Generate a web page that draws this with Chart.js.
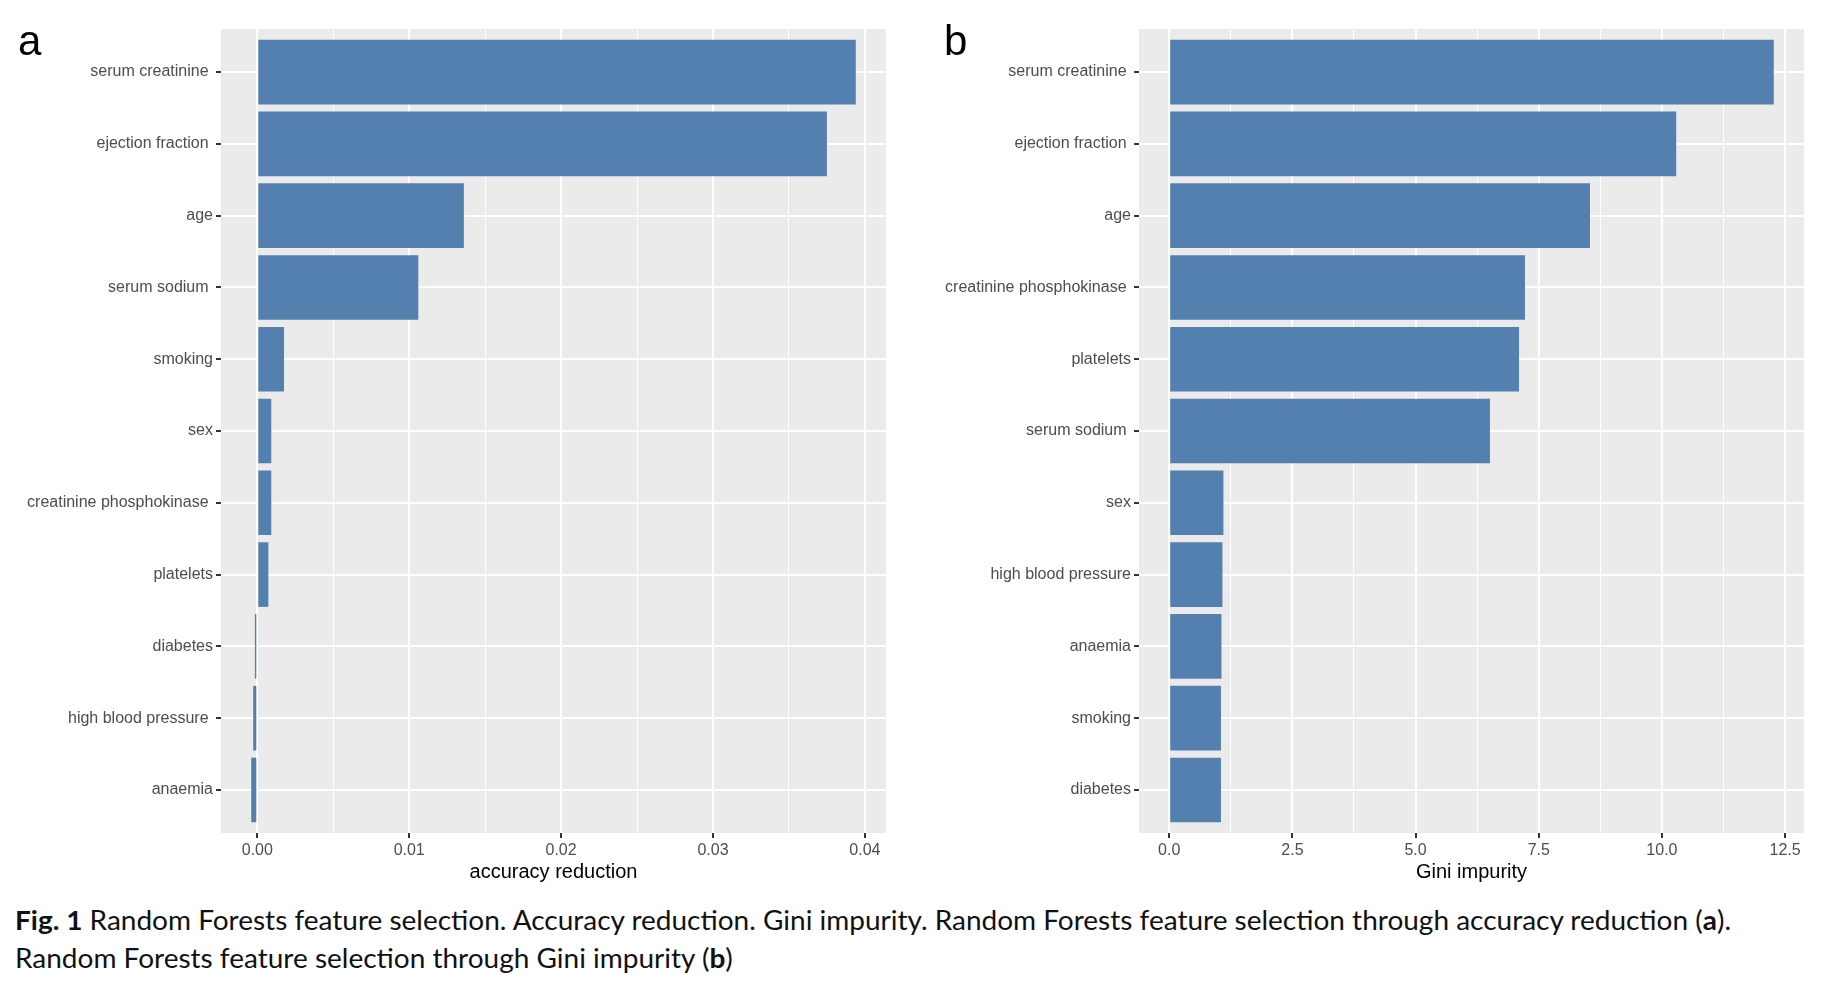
<!DOCTYPE html>
<html lang="en">
<head>
  <meta charset="UTF-8" />
  <title>Random Forests feature selection</title>
  <script src="https://cdn.jsdelivr.net/npm/chart.js"></script>
  <style>
    body {
      margin: 0;
      background: #ffffff;
      width: 1824px;
      height: 986px;
      position: relative;
      overflow: hidden;
      font-family: 'Liberation Sans', Arial, sans-serif;
    }
    .panel {
      position: absolute;
      top: 0;
      width: 912px;
      height: 890px;
    }
    .tag {
      position: absolute;
      font-size: 42px;
      line-height: 1;
      color: #000;
    }
    .caption {
      position: absolute;
      left: 15px;
      font-family: Lato, 'Open Sans', sans-serif;
      font-size: 26px;
      line-height: 1;
      color: #111;
      white-space: nowrap;
      transform-origin: 0 50%;
    }
  </style>
</head>
<body>
  <div class="panel" style="left:0"><canvas id="accChart"></canvas></div>
  <div class="panel" style="left:912px"><canvas id="giniChart"></canvas></div>
  <div class="tag" style="left:18px; top:20px">a</div>
  <div class="tag" style="left:944px; top:20px">b</div>
  <div class="caption" id="cap1" style="top:907px"><b>Fig. 1</b> Random Forests feature selection. Accuracy reduction. Gini impurity. Random Forests feature selection through accuracy reduction (<b>a</b>).</div>
  <div class="caption" id="cap2" style="top:945px">Random Forests feature selection through Gini impurity (<b>b</b>)</div>

  <script>
    // panel a: accuracy reduction
    const accFeatures = ['serum creatinine ', 'ejection fraction ', 'age', 'serum sodium ', 'smoking', 'sex',
      'creatinine phosphokinase ', 'platelets', 'diabetes', 'high blood pressure ', 'anaemia'];
    const accValues = [0.0394, 0.0375, 0.0136, 0.0106, 0.00176, 0.00092, 0.00092, 0.00073, -0.00016, -0.00027, -0.0004];
    const accTicks = [0, 0.01, 0.02, 0.03, 0.04];
    const accTickLabels = ['0.00', '0.01', '0.02', '0.03', '0.04'];

    // panel b: Gini impurity
    const giniFeatures = ['serum creatinine ', 'ejection fraction ', 'age', 'creatinine phosphokinase ', 'platelets',
      'serum sodium ', 'sex', 'high blood pressure', 'anaemia', 'smoking', 'diabetes'];
    const giniValues = [12.27, 10.29, 8.54, 7.22, 7.10, 6.51, 1.10, 1.08, 1.06, 1.05, 1.05];
    const giniTicks = [0, 2.5, 5, 7.5, 10, 12.5];
    const giniTickLabels = ['0.0', '2.5', '5.0', '7.5', '10.0', '12.5'];

    const BAR = '#5480B0';
    const PANEL_BG = '#EBEBEB';
    const FONT = "'Liberation Sans', Arial, sans-serif";

    const panelBg = {
      id: 'panelBg',
      beforeDraw(chart) {
        const a = chart.chartArea;
        chart.ctx.save();
        chart.ctx.fillStyle = PANEL_BG;
        chart.ctx.fillRect(a.left, a.top, a.right - a.left, a.bottom - a.top);
        chart.ctx.restore();
      }
    };

    function makeChart(id, features, values, ticks, tickLabels, title, axisWidth, padRight) {
      const lo = Math.min(0, ...values), hi = Math.max(0, ...values);
      const span = hi - lo;
      const step = ticks[1] - ticks[0];
      // major + minor grid positions
      const gridVals = [];
      ticks.forEach(t => { gridVals.push(t); gridVals.push(t + step / 2); });
      const xMin = lo - span * 0.05, xMax = hi + span * 0.05;
      const isMajor = v => ticks.some(t => Math.abs(t - v) < step * 1e-3);

      return new Chart(document.getElementById(id), {
        type: 'bar',
        data: {
          datasets: [{
            data: values.map((v, i) => ({ x: v, y: i })),
            backgroundColor: BAR,
            borderWidth: 0,
            categoryPercentage: 0.9,
            barPercentage: 1.0
          }]
        },
        options: {
          indexAxis: 'y',
          responsive: true,
          maintainAspectRatio: false,
          animation: false,
          layout: { padding: { top: 29, right: padRight, left: 0, bottom: 0 } },
          plugins: { legend: { display: false }, tooltip: { enabled: false } },
          scales: {
            y: {
              type: 'linear',
              reverse: true,
              min: -0.6,
              max: features.length - 0.4,
              offset: false,
              afterBuildTicks: s => { s.ticks = features.map((_, i) => ({ value: i })); },
              afterFit: s => { s.width = axisWidth; },
              ticks: {
                autoSkip: false,
                padding: 3,
                color: '#4D4D4D',
                font: { family: FONT, size: 16 },
                callback: v => features[v]
              },
              grid: {
                offset: false,
                color: '#ffffff',
                lineWidth: 2,
                drawTicks: true,
                tickLength: 5,
                tickColor: '#333333',
                tickWidth: 2
              },
              border: { display: false }
            },
            x: {
              type: 'linear',
              min: xMin,
              max: xMax,
              afterBuildTicks: s => { s.ticks = gridVals.filter(v => v >= xMin && v <= xMax).map(v => ({ value: v })); },
              afterFit: s => { s.height = 57; },
              ticks: {
                autoSkip: false,
                maxRotation: 0,
                padding: 3,
                color: '#4D4D4D',
                font: { family: FONT, size: 16 },
                callback: v => {
                  const k = ticks.findIndex(t => Math.abs(t - v) < step * 1e-3);
                  return k >= 0 ? tickLabels[k] : '';
                }
              },
              grid: {
                color: '#ffffff',
                lineWidth: c => isMajor(c.tick.value) ? 2 : 1,
                drawTicks: true,
                tickLength: 5,
                tickColor: c => isMajor(c.tick.value) ? '#333333' : 'rgba(0,0,0,0)',
                tickWidth: 2
              },
              border: { display: false },
              title: {
                display: true,
                text: title,
                color: '#000000',
                font: { family: FONT, size: 20 },
                padding: { top: 0, bottom: 6 }
              }
            }
          }
        },
        plugins: [panelBg]
      });
    }

    makeChart('accChart', accFeatures, accValues, accTicks, accTickLabels, 'accuracy reduction', 221, 26);
    makeChart('giniChart', giniFeatures, giniValues, giniTicks, giniTickLabels, 'Gini impurity', 227, 20);

    // fit caption width to the figure
    const cap1 = document.getElementById('cap1');
    const cap2 = document.getElementById('cap2');
    const k = 1716 / cap1.getBoundingClientRect().width;
    cap1.style.transform = `scaleX(${k})`;
    cap2.style.transform = `scaleX(${k})`;
  </script>
</body>
</html>
